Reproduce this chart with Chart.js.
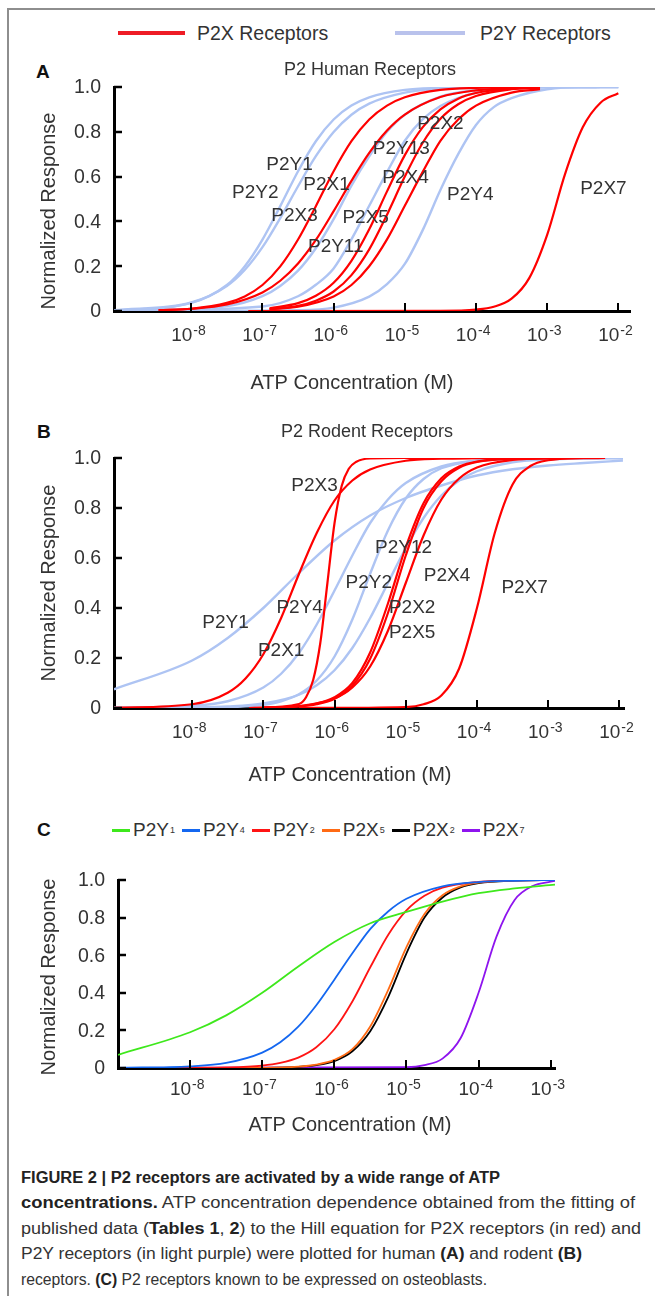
<!DOCTYPE html>
<html><head><meta charset="utf-8">
<script src="https://cdn.jsdelivr.net/npm/chart.js@4.4.1/dist/chart.umd.min.js"></script>
<style>
html,body{margin:0;padding:0;background:#fff;}
body{width:655px;height:1296px;position:relative;overflow:hidden;font-family:"Liberation Sans",Arial,sans-serif;color:#333;}
.frame{position:absolute;left:7px;top:8px;width:700px;height:1400px;border-left:2px solid #8e8e8e;border-top:2px solid #8e8e8e;}
canvas{position:absolute;left:0;}
.t{position:absolute;white-space:nowrap;font-size:19.5px;line-height:22px;}
.ln{position:absolute;}
.letter{position:absolute;font-weight:bold;font-size:19px;color:#111;}
.legc{position:absolute;left:110px;top:818px;display:flex;align-items:center;font-size:19px;line-height:24px;white-space:nowrap;}
.legc .sw{display:inline-block;width:18px;height:3px;margin:0 3px 0 2px;}
.legc .it{display:flex;align-items:center;margin-right:5px;}
.legc sub{font-size:9px;vertical-align:-3px;margin-left:1px;}
.cap{position:absolute;left:21px;top:1165px;font-size:16px;line-height:25.4px;color:#333;}
.cap div{white-space:nowrap;}
.cap span{display:inline-block;transform-origin:0 50%;}
.cap b{color:#222;}
</style>
</head><body>
<div class="frame"></div>

<div class="ln" style="left:118px;top:31px;width:67px;height:4px;background:#ee1c25"></div>
<div class="t" style="left:197px;top:22px">P2X Receptors</div>
<div class="ln" style="left:395px;top:31px;width:70px;height:4px;background:#b9c2ec"></div>
<div class="t" style="left:480px;top:22px">P2Y Receptors</div>

<div class="letter" style="left:36px;top:61px">A</div>
<div class="letter" style="left:37px;top:421px">B</div>
<div class="letter" style="left:37px;top:819px">C</div>

<canvas id="cA" width="655" height="370" style="top:40px"></canvas>
<canvas id="cB" width="655" height="380" style="top:415px"></canvas>
<canvas id="cC" width="655" height="300" style="top:845px"></canvas>

<div class="legc">
 <span class="it"><span class="sw" style="background:#3ee81c"></span>P2Y<sub>1</sub></span>
 <span class="it"><span class="sw" style="background:#1467f0"></span>P2Y<sub>4</sub></span>
 <span class="it"><span class="sw" style="background:#ff1414"></span>P2Y<sub>2</sub></span>
 <span class="it"><span class="sw" style="background:#ff6a14"></span>P2X<sub>5</sub></span>
 <span class="it"><span class="sw" style="background:#000"></span>P2X<sub>2</sub></span>
 <span class="it"><span class="sw" style="background:#8e14ee"></span>P2X<sub>7</sub></span>
</div>

<div class="cap" id="cap">
<div><span data-w="479"><b>FIGURE 2 | P2 receptors are activated by a wide range of ATP</b></span></div>
<div><span data-w="614"><b>concentrations.</b> ATP concentration dependence obtained from the fitting of</span></div>
<div><span data-w="620">published data (<b>Tables 1</b>, <b>2</b>) to the Hill equation for P2X receptors (in red) and</span></div>
<div><span data-w="561">P2Y receptors (in light purple) were plotted for human <b>(A)</b> and rodent <b>(B)</b></span></div>
<div><span data-w="466">receptors. <b>(C)</b> P2 receptors known to be expressed on osteoblasts.</span></div>
</div>

<script>
document.querySelectorAll('#cap span').forEach(s => {
  const w = s.getBoundingClientRect().width, t = +s.dataset.w;
  s.style.transform = 'scaleX(' + (t / w).toFixed(4) + ')';
});

// ---- axes ----
const xTickExpAB = [-8,-7,-6,-5,-4,-3,-2];
const xTickExpC = [-8,-7,-6,-5,-4,-3];
const yTicks = [0,0.2,0.4,0.6,0.8,1.0];
const yTickLabels = ['0','0.2','0.4','0.6','0.8','1.0'];

// ---- panel A: human receptors, [log10 ATP (M), normalized response] ----
const human_P2X3 = [[-8.46,0.003],[-8,0.010],[-7.5,0.036],[-7.25,0.065],[-7,0.116],[-6.75,0.199],[-6.5,0.319],[-6.25,0.468],[-6,0.624],[-5.75,0.758],[-5.5,0.855],[-5.25,0.917],[-5,0.954],[-4.5,0.987],[-4,0.996],[-3.1,1.0]];
const human_P2X1 = [[-8.46,0.004],[-8,0.010],[-7.5,0.029],[-7,0.083],[-6.75,0.135],[-6.5,0.212],[-6.25,0.317],[-6,0.446],[-5.75,0.581],[-5.5,0.706],[-5.25,0.806],[-5,0.877],[-4.5,0.955],[-4,0.985],[-3.5,0.995],[-3.1,0.998]];
const human_P2X5 = [[-6.9,0.012],[-6.5,0.035],[-6.25,0.068],[-6,0.126],[-5.75,0.224],[-5.5,0.365],[-5.25,0.534],[-5,0.696],[-4.75,0.82],[-4.5,0.90],[-4.25,0.948],[-4,0.973],[-3.5,0.993],[-3.1,0.998]];
const human_P2X4 = [[-6.9,0.008],[-6.5,0.023],[-6.25,0.046],[-6,0.087],[-5.75,0.16],[-5.5,0.275],[-5.25,0.43],[-5,0.60],[-4.75,0.75],[-4.5,0.858],[-4.25,0.923],[-4,0.96],[-3.5,0.99],[-3.1,0.997]];
const human_P2X2 = [[-6.9,0.007],[-6.5,0.019],[-6,0.065],[-5.75,0.116],[-5.5,0.20],[-5.25,0.32],[-5,0.47],[-4.75,0.62],[-4.5,0.76],[-4.25,0.855],[-4,0.917],[-3.5,0.975],[-3.1,0.99]];
const human_P2X7 = [[-7.2,0],[-4.5,0.001],[-4,0.0065],[-3.75,0.019],[-3.5,0.055],[-3.25,0.148],[-3,0.34],[-2.75,0.61],[-2.5,0.82],[-2.25,0.93],[-2,0.972]];
const human_P2Y1 = [[-9.086,0.002],[-8,0.036],[-7.5,0.116],[-7.25,0.199],[-7,0.319],[-6.75,0.468],[-6.5,0.624],[-6.25,0.758],[-6,0.855],[-5.75,0.917],[-5.5,0.954],[-5,0.987],[-4.5,0.996],[-4,1.0],[-2.26,1.0]];
const human_P2Y2 = [[-9.086,0.003],[-8,0.038],[-7.5,0.112],[-7.25,0.183],[-7,0.285],[-6.75,0.415],[-6.5,0.557],[-6.25,0.691],[-6,0.799],[-5.75,0.876],[-5.5,0.926],[-5,0.975],[-4.5,0.992],[-4,0.997],[-2.0,1.0]];
const human_P2Y11 = [[-9.086,0],[-7.5,0.022],[-7,0.066],[-6.75,0.112],[-6.5,0.18],[-6.25,0.28],[-6,0.41],[-5.75,0.56],[-5.5,0.69],[-5.25,0.80],[-5,0.876],[-4.5,0.957],[-4,0.986],[-3.5,0.996],[-3,1.0],[-2.0,1.0]];
const human_P2Y13 = [[-9.086,0],[-7,0.02],[-6.5,0.066],[-6.25,0.117],[-6,0.19],[-5.75,0.32],[-5.5,0.47],[-5.25,0.62],[-5,0.76],[-4.75,0.855],[-4.5,0.915],[-4,0.975],[-3.5,0.993],[-3,1.0],[-2.3,1.0]];
const human_P2Y4 = [[-9.086,0],[-6.5,0.004],[-6,0.015],[-5.5,0.064],[-5.25,0.12],[-5,0.21],[-4.75,0.36],[-4.5,0.54],[-4.25,0.70],[-4,0.83],[-3.75,0.91],[-3.5,0.95],[-3,0.99],[-2.5,1.0],[-2.0,1.0]];

// ---- panel B: rodent receptors ----
const rodent_P2X1 = [[-9.097,0.001],[-8,0.015],[-7.5,0.061],[-7.25,0.118],[-7,0.215],[-6.75,0.36],[-6.5,0.536],[-6.25,0.70],[-6,0.83],[-5.75,0.91],[-5.5,0.954],[-5,0.989],[-4.5,0.997],[-4,0.999],[-3,1.0]];
const rodent_P2X3 = [[-7.2,0],[-6.5,0.016],[-6.4,0.043],[-6.3,0.112],[-6.2,0.26],[-6.1,0.5],[-6.0,0.74],[-5.9,0.888],[-5.8,0.957],[-5.7,0.984],[-5.5,0.998],[-5,1.0],[-3,1.0]];
const rodent_P2X2 = [[-7,0.001],[-6.5,0.006],[-6.25,0.015],[-6,0.037],[-5.75,0.089],[-5.5,0.197],[-5.25,0.38],[-5,0.61],[-4.75,0.80],[-4.5,0.907],[-4.25,0.961],[-4,0.984],[-3.5,0.997],[-2.8,1.0]];
const rodent_P2X5 = [[-7,0.001],[-6.5,0.007],[-6.25,0.018],[-6,0.043],[-5.75,0.10],[-5.5,0.222],[-5.25,0.418],[-5,0.643],[-4.75,0.819],[-4.5,0.919],[-4.25,0.966],[-4,0.986],[-3.5,0.998],[-2.8,1.0]];
const rodent_P2X4 = [[-7,0.002],[-6.5,0.008],[-6,0.038],[-5.75,0.082],[-5.5,0.166],[-5.25,0.309],[-5,0.5],[-4.75,0.69],[-4.5,0.834],[-4.25,0.918],[-4,0.962],[-3.5,0.992],[-2.8,1.0]];
const rodent_P2X7 = [[-6.5,0],[-5,0.004],[-4.75,0.015],[-4.5,0.05],[-4.25,0.158],[-4,0.40],[-3.75,0.70],[-3.5,0.894],[-3.25,0.968],[-3,0.991],[-2.5,0.999],[-2.2,1.0]];
const rodent_P2Y1 = [[-9.097,0.075],[-8,0.19],[-7.5,0.28],[-7,0.40],[-6.5,0.54],[-6,0.67],[-5.5,0.77],[-5,0.84],[-4.5,0.89],[-4,0.93],[-3.5,0.955],[-3,0.97],[-2.5,0.98],[-1.95,0.99]];
const rodent_P2Y4 = [[-9.097,0.001],[-8,0.009],[-7.5,0.027],[-7,0.082],[-6.75,0.137],[-6.5,0.22],[-6.25,0.334],[-6,0.47],[-5.75,0.61],[-5.5,0.74],[-5.25,0.834],[-5,0.90],[-4.5,0.966],[-4,0.989],[-3.5,0.996],[-3,0.999],[-1.95,1.0]];
const rodent_P2Y2 = [[-9.097,0],[-8,0.001],[-7.5,0.003],[-7,0.013],[-6.75,0.027],[-6.5,0.055],[-6.25,0.11],[-6,0.206],[-5.75,0.354],[-5.5,0.537],[-5.25,0.71],[-5,0.838],[-4.75,0.916],[-4.5,0.959],[-4,0.99],[-3.5,0.998],[-1.95,1.0]];
const rodent_P2Y12 = [[-9.097,0],[-8,0.002],[-7.5,0.006],[-7,0.018],[-6.5,0.053],[-6.25,0.091],[-6,0.151],[-5.75,0.24],[-5.5,0.36],[-5.25,0.5],[-5,0.64],[-4.75,0.76],[-4.5,0.85],[-4.25,0.91],[-4,0.947],[-3.5,0.983],[-3,0.994],[-2.5,0.998],[-1.95,1.0]];

// ---- panel C: osteoblast receptors ----
const osteo_P2Y1 = [[-9,0.07],[-8,0.19],[-7.5,0.28],[-7,0.40],[-6.5,0.54],[-6,0.67],[-5.5,0.77],[-5,0.83],[-4.5,0.885],[-4,0.93],[-3.5,0.955],[-2.94,0.975]];
const osteo_P2Y4 = [[-9,0.001],[-8,0.009],[-7.5,0.027],[-7,0.082],[-6.75,0.137],[-6.5,0.22],[-6.25,0.334],[-6,0.47],[-5.75,0.61],[-5.5,0.74],[-5.25,0.834],[-5,0.90],[-4.5,0.966],[-4,0.989],[-3.5,0.996],[-2.94,1.0]];
const osteo_P2Y2 = [[-9,0],[-8,0.001],[-7.5,0.003],[-7,0.013],[-6.75,0.027],[-6.5,0.055],[-6.25,0.11],[-6,0.206],[-5.75,0.354],[-5.5,0.537],[-5.25,0.71],[-5,0.838],[-4.75,0.916],[-4.5,0.959],[-4,0.99],[-3.5,0.998],[-2.94,1.0]];
const osteo_P2X5 = [[-9,0],[-7,0.001],[-6.5,0.007],[-6.25,0.018],[-6,0.043],[-5.75,0.10],[-5.5,0.222],[-5.25,0.418],[-5,0.643],[-4.75,0.819],[-4.5,0.919],[-4.25,0.966],[-4,0.986],[-3.5,0.998],[-2.94,1.0]];
const osteo_P2X2 = [[-9,0],[-7,0.001],[-6.5,0.006],[-6.25,0.015],[-6,0.037],[-5.75,0.089],[-5.5,0.197],[-5.25,0.38],[-5,0.61],[-4.75,0.80],[-4.5,0.907],[-4.25,0.961],[-4,0.984],[-3.5,0.997],[-2.94,1.0]];
const osteo_P2X7 = [[-9,0],[-5,0.004],[-4.75,0.015],[-4.5,0.05],[-4.25,0.158],[-4,0.40],[-3.75,0.70],[-3.5,0.894],[-3.25,0.968],[-3,0.991],[-2.94,0.995]];

// ---- curve labels [text, log10 x, y] ----
const labelsA = [['P2Y1',-6.62,0.655],['P2Y2',-7.1,0.53],['P2X1',-6.1,0.565],['P2X3',-6.55,0.425],['P2Y11',-5.97,0.285],['P2X5',-5.55,0.415],['P2Y13',-5.05,0.725],['P2X4',-4.99,0.595],['P2X2',-4.5,0.835],['P2Y4',-4.08,0.52],['P2X7',-2.21,0.545]];
const labelsB = [['P2X3',-6.28,0.89],['P2Y12',-5.03,0.64],['P2X4',-4.42,0.53],['P2Y2',-5.52,0.5],['P2X7',-3.33,0.48],['P2Y4',-6.49,0.40],['P2X2',-4.91,0.40],['P2Y1',-7.53,0.34],['P2X5',-4.91,0.30],['P2X1',-6.75,0.23]];

const RED = '#ff0000', BLUE = '#aec4f3';
const FONT = '"Liberation Sans", Arial, sans-serif';

function ds(label, pts, color, w) {
  return { label, data: pts.map(([e, v]) => ({ x: Math.pow(10, e), y: v })),
    borderColor: color, backgroundColor: color, borderWidth: w, pointRadius: 0,
    fill: false, cubicInterpolationMode: 'monotone' };
}

const decor = {
  id: 'decor',
  afterDraw(chart, args, o) {
    const ctx = chart.ctx, xs = chart.scales.x, ys = chart.scales.y, ca = chart.chartArea;
    ctx.save();
    ctx.strokeStyle = '#000'; ctx.lineWidth = 2.5; ctx.lineCap = 'butt';
    yTicks.forEach(v => { const y = Math.round(ys.getPixelForValue(v)); ctx.beginPath(); ctx.moveTo(ca.left, y); ctx.lineTo(ca.left + 8, y); ctx.stroke(); });
    ctx.lineWidth = 2;
    o.xExps.forEach(e => { const x = Math.round(xs.getPixelForValue(Math.pow(10, e))); ctx.beginPath(); ctx.moveTo(x, ca.bottom); ctx.lineTo(x, ca.bottom - 8); ctx.stroke(); });
    ctx.fillStyle = '#333';
    ctx.font = '19.5px ' + FONT; ctx.textAlign = 'right'; ctx.textBaseline = 'middle';
    yTicks.forEach((v, i) => ctx.fillText(yTickLabels[i], ca.left - 13, ys.getPixelForValue(v) + 1));
    // x tick labels 10^n
    o.xExps.forEach(e => {
      const x = xs.getPixelForValue(Math.pow(10, e));
      ctx.font = '19px ' + FONT; const w1 = ctx.measureText('10').width;
      const sup = String(e);
      ctx.textAlign = 'left'; ctx.textBaseline = 'middle';
      const left = x - w1 + 1;
      ctx.fillText('10', left, ca.bottom + o.tickDy);
      ctx.font = '14px ' + FONT; ctx.fillText(sup, left + w1 + 1, ca.bottom + o.tickDy - 5);
    });
    // axis titles
    ctx.font = '20px ' + FONT; ctx.textAlign = 'center'; ctx.textBaseline = 'middle';
    ctx.fillText('ATP Concentration (M)', o.xTitleX, o.xTitleY);
    ctx.save(); ctx.translate(49, o.yTitleY); ctx.rotate(-Math.PI / 2);
    ctx.fillText('Normalized Response', 0, 0); ctx.restore();
    if (o.title) { ctx.font = '18px ' + FONT; ctx.fillText(o.title, o.titleX, o.titleY); }
    // curve labels
    ctx.font = '19px ' + FONT;
    (o.labels || []).forEach(([t, e, v]) => ctx.fillText(t, xs.getPixelForValue(Math.pow(10, e)), ys.getPixelForValue(v)));
    ctx.restore();
  }
};

function makeChart(id, datasets, xMinExp, xMaxExp, pad, decorOpts) {
  return new Chart(document.getElementById(id), {
    type: 'line',
    data: { datasets },
    plugins: [decor],
    options: {
      responsive: false, animation: false, devicePixelRatio: 1,
      layout: { padding: pad },
      plugins: { legend: { display: false }, tooltip: { enabled: false }, decor: decorOpts },
      scales: {
        x: { type: 'logarithmic', min: Math.pow(10, xMinExp), max: Math.pow(10, xMaxExp),
             ticks: { display: false }, grid: { display: false, drawTicks: false },
             border: { display: true, color: '#000', width: 3 } },
        y: { type: 'linear', min: 0, max: 1, ticks: { display: false },
             grid: { display: false, drawTicks: false },
             border: { display: true, color: '#000', width: 3 } }
      }
    }
  });
}

makeChart('cA', [
  ds('P2X3', human_P2X3, RED, 2.2), ds('P2X1', human_P2X1, RED, 2.2), ds('P2X5', human_P2X5, RED, 2.2),
  ds('P2X4', human_P2X4, RED, 2.2), ds('P2X2', human_P2X2, RED, 2.2), ds('P2X7', human_P2X7, RED, 2.2),
  ds('P2Y1', human_P2Y1, BLUE, 2.4), ds('P2Y2', human_P2Y2, BLUE, 2.4), ds('P2Y11', human_P2Y11, BLUE, 2.4),
  ds('P2Y13', human_P2Y13, BLUE, 2.4), ds('P2Y4', human_P2Y4, BLUE, 2.4)
], -9.086, -1.836, { left: 114, right: 25, top: 47, bottom: 99 },
  { xExps: xTickExpAB, tickDy: 25, xTitleX: 352, xTitleY: 343, yTitleY: 171, title: 'P2 Human Receptors', titleX: 370, titleY: 30, labels: labelsA });

makeChart('cB', [
  ds('P2X1', rodent_P2X1, RED, 2.2), ds('P2X3', rodent_P2X3, RED, 2.2), ds('P2X2', rodent_P2X2, RED, 2.2),
  ds('P2X5', rodent_P2X5, RED, 2.2), ds('P2X4', rodent_P2X4, RED, 2.2), ds('P2X7', rodent_P2X7, RED, 2.2),
  ds('P2Y1', rodent_P2Y1, BLUE, 2.4), ds('P2Y4', rodent_P2Y4, BLUE, 2.4), ds('P2Y2', rodent_P2Y2, BLUE, 2.4),
  ds('P2Y12', rodent_P2Y12, BLUE, 2.4)
], -9.097, -1.935, { left: 114, right: 31, top: 43, bottom: 87 },
  { xExps: xTickExpAB, tickDy: 25, xTitleX: 350, xTitleY: 360, yTitleY: 168, title: 'P2 Rodent Receptors', titleX: 367, titleY: 17, labels: labelsB });

makeChart('cC', [
  ds('P2Y1', osteo_P2Y1, '#3ee81c', 1.8), ds('P2Y4', osteo_P2Y4, '#1467f0', 1.8), ds('P2Y2', osteo_P2Y2, '#ff1414', 1.8),
  ds('P2X5', osteo_P2X5, '#ff6a14', 1.8), ds('P2X2', osteo_P2X2, '#000000', 1.8), ds('P2X7', osteo_P2X7, '#8e14ee', 1.8)
], -9.0, -2.94, { left: 118, right: 100, top: 35, bottom: 77 },
  { xExps: xTickExpC, tickDy: 22, xTitleX: 350, xTitleY: 280, yTitleY: 132, labels: [] });
</script>
</body></html>
